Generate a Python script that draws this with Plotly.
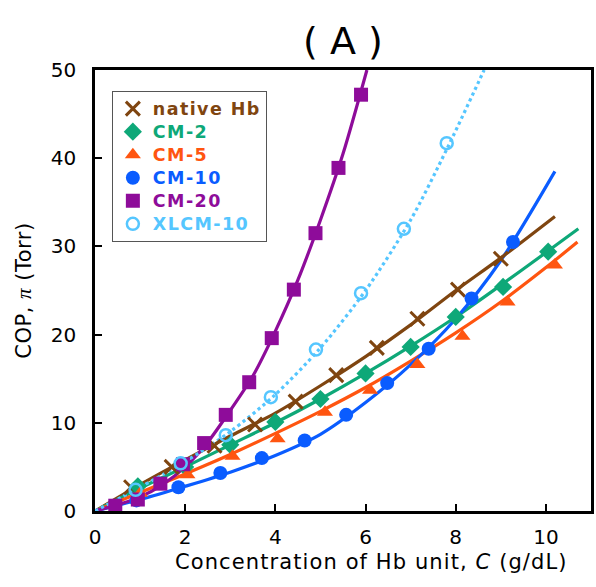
import plotly.graph_objects as go

# Measured colloid osmotic pressure (markers)
native_x = [0.8, 1.7, 2.65, 3.55, 4.45, 5.35, 6.25, 7.15, 8.05, 9.0]
native_y = [2.7, 5.0, 7.4, 9.8, 12.4, 15.4, 18.5, 21.8, 25.1, 28.6]

cm2_x = [0.95, 2.0, 3.0, 4.0, 5.0, 6.0, 7.0, 8.0, 9.05, 10.05]
cm2_y = [2.8, 5.0, 7.5, 10.1, 12.7, 15.6, 18.6, 22.0, 25.4, 29.4]

cm5_x = [1.0, 2.05, 3.05, 4.05, 5.1, 6.1, 7.15, 8.15, 9.15, 10.2]
cm5_y = [2.0, 4.1, 6.2, 8.2, 11.2, 13.7, 16.6, 19.8, 23.7, 27.9]

cm10_x = [0.92, 1.85, 2.78, 3.70, 4.65, 5.57, 6.48, 7.40, 8.35, 9.27]
cm10_y = [1.2, 2.7, 4.3, 6.0, 8.0, 10.9, 14.5, 18.4, 24.1, 30.5]

cm20_x = [0.45, 0.95, 1.45, 1.95, 2.42, 2.9, 3.42, 3.92, 4.41, 4.89, 5.4, 5.9]
cm20_y = [0.6, 1.3, 3.1, 5.3, 7.7, 10.9, 14.6, 19.6, 25.1, 31.5, 38.9, 47.2]

xl10_x = [0.9, 1.9, 2.9, 3.9, 4.9, 5.9, 6.85, 7.8]
xl10_y = [2.4, 5.4, 8.6, 12.9, 18.3, 24.7, 32.0, 41.7]

# Fitted curves
native_fx = [0, 1, 2, 3, 4, 5, 6, 7, 8, 9, 10.2]
native_fy = [0, 3.0, 5.8, 8.5, 11.1, 14.2, 17.5, 21.1, 25.0, 28.7, 33.4]

cm2_fx = [0, 1, 2, 3, 4, 5, 6, 7, 8, 9, 10, 10.72]
cm2_fy = [0, 2.6, 5.0, 7.5, 10.0, 12.7, 15.6, 18.7, 22.0, 25.6, 29.3, 32.0]

cm5_fx = [0, 1, 2, 3, 4, 5, 6, 7, 8, 9, 10, 10.7]
cm5_fy = [0, 2.1, 4.2, 6.4, 8.8, 11.3, 14.0, 17.0, 20.2, 23.7, 27.6, 30.5]

cm10_fx = [0, 1, 2, 3, 4, 5, 6, 7, 8, 9, 10.2]
cm10_fy = [0, 1.3, 2.8, 4.4, 6.3, 8.7, 12.3, 16.6, 21.8, 28.4, 38.5]

cm20_fx = [0, 0.5, 1, 1.5, 2, 2.5, 3, 3.5, 4, 4.5, 5, 5.5, 6.03]
cm20_fy = [0, 0.7, 1.6, 3.0, 5.0, 7.8, 11.4, 15.3, 20.4, 26.2, 33.0, 40.5, 50.0]

xl10_fx = [0, 1, 2, 3, 4, 5, 6, 7, 7.8, 8.63]
xl10_fy = [0, 2.7, 5.6, 9.0, 13.2, 18.5, 25.0, 33.0, 41.0, 50.0]

series = [
    ("native Hb", "#7F4510", native_x, native_y, native_fx, native_fy,
     dict(symbol="x-thin", size=14, line=dict(width=3, color="#7F4510")), "solid"),
    ("CM-2", "#0EA878", cm2_x, cm2_y, cm2_fx, cm2_fy,
     dict(symbol="diamond", size=14), "solid"),
    ("CM-5", "#FF5510", cm5_x, cm5_y, cm5_fx, cm5_fy,
     dict(symbol="triangle-up", size=14), "solid"),
    ("CM-10", "#0A5CFF", cm10_x, cm10_y, cm10_fx, cm10_fy,
     dict(symbol="circle", size=14), "solid"),
    ("CM-20", "#8E0C9A", cm20_x, cm20_y, cm20_fx, cm20_fy,
     dict(symbol="square", size=14), "solid"),
    ("XLCM-10", "#55C6FF", xl10_x, xl10_y, xl10_fx, xl10_fy,
     dict(symbol="circle-open", size=12, line=dict(width=2.5, color="#55C6FF")), "dot"),
]

FONT = "DejaVu Sans, Liberation Sans, Arial, sans-serif"

fig = go.Figure()

for name, color, x, y, fx, fy, mk, dash in series:
    fig.add_trace(go.Scatter(
        x=fx, y=fy, mode="lines", line=dict(color=color, width=3.2, dash=dash,
                                             shape="spline", smoothing=0.8),
        showlegend=False, hoverinfo="skip", cliponaxis=True))

for name, color, x, y, fx, fy, mk, dash in series:
    label = (f"<span style='color:{color};font-size:17.5px;letter-spacing:1.4px'>"
             f"<b>{name}</b></span>")
    fig.add_trace(go.Scatter(
        x=x, y=y, mode="markers", marker=dict(color=color, **mk),
        name=label, cliponaxis=True))

fig.update_layout(
    width=596, height=587,
    margin=dict(l=95, r=2, t=70, b=76),
    paper_bgcolor="white", plot_bgcolor="white",
    font=dict(family=FONT, size=20, color="black"),
    title=dict(text="( A )", xref="paper", x=0.5, xanchor="center",
               y=0.930, yanchor="middle", font=dict(size=38, color="black")),
    legend=dict(x=0.034, y=0.952, xanchor="left", yanchor="top",
                bgcolor="white", bordercolor="#555555", borderwidth=1,
                font=dict(size=15.4), tracegroupgap=0, itemwidth=30),
    showlegend=True,
)

# x-axis caption, placed slightly right of the plot centre
fig.add_annotation(
    text="<span style='letter-spacing:1.1px'>Concentration of Hb unit, "
         "<i>C</i> (g/dL)</span>",
    xref="paper", yref="paper", x=0.558, y=-0.116, xanchor="center",
    yanchor="middle", showarrow=False, font=dict(size=21, color="black"))

fig.update_xaxes(
    range=[0, 11], tickvals=[0, 2, 4, 6, 8, 10], ticks="inside", ticklen=7,
    tickwidth=2, tickcolor="black", showline=True, linecolor="black", linewidth=2.5,
    mirror=True, showgrid=False, zeroline=False, tickfont=dict(size=20),
    ticklabelstandoff=6,
)
fig.update_yaxes(
    range=[0, 50], tickvals=[0, 10, 20, 30, 40, 50], ticks="inside", ticklen=7,
    tickwidth=2, tickcolor="black", showline=True, linecolor="black", linewidth=2.5,
    mirror=True, showgrid=False, zeroline=False, tickfont=dict(size=20),
    title=dict(text="<span style='letter-spacing:0.5px'>COP, <i><span style='font-family:"
                    "Liberation Serif, serif'>π</span></i> (Torr)</span>",
               standoff=14, font=dict(size=21)),
    ticklabelstandoff=12,
)

fig.write_html("out.html")
